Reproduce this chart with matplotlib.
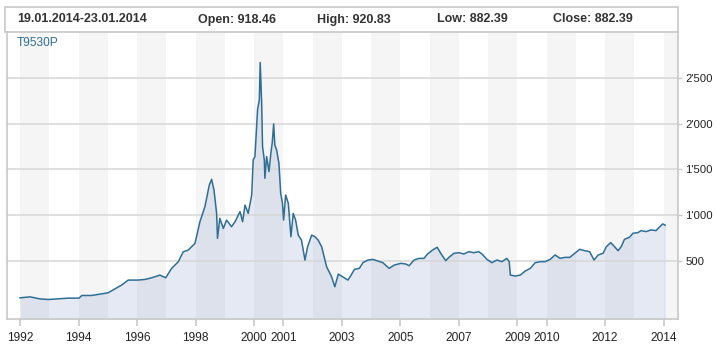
import matplotlib
matplotlib.use("Agg")
import matplotlib.pyplot as plt
from matplotlib.patches import Rectangle

# ---- data (decimal years, index values) ----
years = [1992.00, 1992.34, 1992.68, 1992.97, 1993.31, 1993.65, 1994.02, 1994.11, 1994.45, 1994.79,
         1995.01, 1995.25, 1995.47, 1995.70, 1996.03, 1996.27, 1996.50, 1996.78, 1996.98, 1997.18,
         1997.41, 1997.58, 1997.75, 1997.98, 1998.15, 1998.32, 1998.47, 1998.55, 1998.63, 1998.72,
         1998.75, 1998.83, 1998.95, 1999.06, 1999.23, 1999.35, 1999.52, 1999.61, 1999.69, 1999.80,
         1999.92, 1999.97, 2000.03, 2000.12, 2000.18, 2000.21, 2000.26, 2000.29, 2000.35, 2000.37,
         2000.43, 2000.51, 2000.58, 2000.62, 2000.67, 2000.71, 2000.77, 2000.85, 2000.91, 2000.97,
         2001.01, 2001.08, 2001.17, 2001.26, 2001.34, 2001.42, 2001.51, 2001.62, 2001.74, 2001.83,
         2001.97, 2002.08, 2002.19, 2002.31, 2002.48, 2002.65, 2002.76, 2002.88, 2002.99, 2003.21,
         2003.32, 2003.43, 2003.60, 2003.72, 2003.89, 2004.06, 2004.23, 2004.40, 2004.62, 2004.79,
         2005.02, 2005.19, 2005.30, 2005.47, 2005.64, 2005.81, 2005.93, 2006.10, 2006.26, 2006.38,
         2006.55, 2006.66, 2006.83, 2007.00, 2007.17, 2007.34, 2007.51, 2007.68, 2007.79, 2007.96,
         2008.13, 2008.30, 2008.47, 2008.64, 2008.72, 2008.76, 2008.93, 2009.10, 2009.27, 2009.44,
         2009.61, 2009.78, 2009.95, 2010.12, 2010.29, 2010.46, 2010.63, 2010.79, 2010.96, 2011.13,
         2011.30, 2011.47, 2011.62, 2011.76, 2011.93, 2012.04, 2012.19, 2012.32, 2012.44, 2012.55,
         2012.66, 2012.83, 2012.95, 2013.12, 2013.23, 2013.40, 2013.57, 2013.74, 2013.85, 2013.97,
         2014.05]
values = [98, 109, 87, 80, 87, 95, 95, 124, 124, 142,
          153, 197, 237, 292, 292, 299, 317, 346, 317, 419,
          492, 601, 620, 692, 929, 1093, 1330, 1392, 1275, 1020,
          747, 966, 856, 947, 875, 929, 1039, 929, 1111, 1020,
          1221, 1603, 1640, 2150, 2260, 2667, 2223, 1749, 1603, 1403,
          1640, 1476, 1694, 1786, 1997, 1767, 1713, 1567, 1239, 1130,
          947, 1221, 1130, 765, 1020, 947, 783, 729, 510, 656,
          783, 765, 729, 656, 437, 328, 219, 357, 335, 292,
          347, 409, 420, 482, 511, 518, 500, 482, 420, 456,
          475, 467, 449, 511, 529, 529, 577, 620, 650, 584,
          504, 540, 584, 591, 577, 602, 591, 602, 577, 518,
          482, 511, 493, 529, 493, 347, 336, 347, 391, 420,
          482, 493, 493, 518, 566, 529, 540, 540, 584, 628,
          613, 602, 511, 566, 584, 657, 701, 657, 613, 657,
          737, 759, 803, 810, 832, 821, 840, 832, 869, 905,
          891]

x_ticks = [1992, 1994, 1996, 1998, 2000, 2001, 2003, 2005, 2007, 2009, 2010, 2012, 2014]
x_tick_labels = ["1992", "1994", "1996", "1998", "2000", "2001", "2003", "2005", "2007",
                 "2009", "2010", "2012", "2014"]
y_ticks = [500, 1000, 1500, 2000, 2500]
y_tick_labels = ["500", "1'000", "1'500", "2'000", "2'500"]
series_name = "T9530P"
header_items = ["19.01.2014-23.01.2014", "Open: 918.46", "High: 920.83", "Low: 882.39", "Close: 882.39"]

W, H = 716, 354
fig = plt.figure(figsize=(W / 100, H / 100), dpi=100)
fig.patch.set_facecolor("white")
plt.rcParams["font.family"] = ["Liberation Sans", "DejaVu Sans"]

# main axes
L, R, T, B = 7.3, 678.3, 31.7, 319.3
ax = fig.add_axes([L / W, 1 - B / H, (R - L) / W, (B - T) / H])
xmin, xmax = 1991.566, 2014.50
ymin, ymax = -136, 3003
ax.set_xlim(xmin, xmax)
ax.set_ylim(ymin, ymax)

# alternating year bands
for yr in range(1992, 2015, 2):
    ax.axvspan(yr, min(yr + 1, xmax), color="#f5f5f5", lw=0, zorder=0)

# gridlines
for yv in y_ticks:
    ax.axhline(yv, color="#d6d6d6", lw=1.1, zorder=1.5)

ax.fill_between(years, values, ymin, color="#7d91c3", alpha=0.2, lw=0, zorder=1)
ax.plot(years, values, color="#2f6e94", lw=1.1, zorder=3, solid_joinstyle="round")

# spines
for s in ["left", "right", "bottom"]:
    ax.spines[s].set_color("#c8c8c8")
    ax.spines[s].set_linewidth(1.2)
ax.spines["top"].set_visible(False)

ax.set_xticks(x_ticks)
ax.set_xticklabels(x_tick_labels)
ax.set_yticks(y_ticks)
ax.set_yticklabels(y_tick_labels)
ax.yaxis.tick_right()
ax.tick_params(axis="x", length=5, width=1.2, color="#c8c8c8", pad=4,
               labelsize=8.6, labelcolor="#222222")
ax.tick_params(axis="y", length=3, width=1, color="#c8c8c8", pad=2,
               labelsize=8.2, labelcolor="#222222")

ax.text(16.7 / W, 1 - 42.8 / H, series_name, transform=fig.transFigure,
        fontsize=8.6, color="#2f6e94", va="center", ha="left")

# header box
hx0, hx1, hy0, hy1 = 5, 678.3, 6.7, 31.5
fig.patches.append(Rectangle((hx0 / W, 1 - hy1 / H), (hx1 - hx0) / W, (hy1 - hy0) / H,
                             transform=fig.transFigure, fill=False, ec="#c8c8c8", lw=1.2))
header_x = [17.4, 198, 317, 437, 553]
for hx, txt in zip(header_x, header_items):
    fig.text(hx / W, 1 - 19.5 / H, txt, fontsize=9, fontweight="bold",
             color="#333333", va="center", ha="left")

fig.savefig("out.png", dpi=100, facecolor="white")
